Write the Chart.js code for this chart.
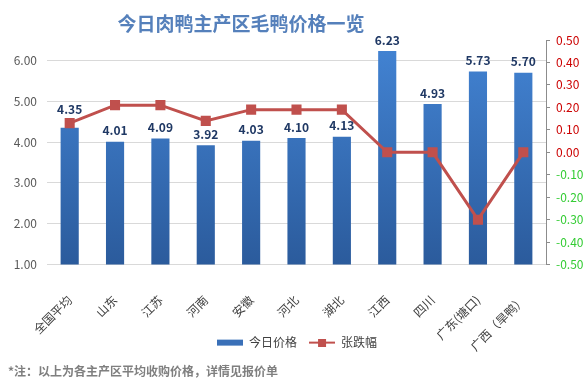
<!DOCTYPE html>
<html>
<head>
<meta charset="utf-8">
<script src="https://cdn.jsdelivr.net/npm/chart.js@4.4.1/dist/chart.umd.min.js"></script>
<style>
  html, body { margin: 0; padding: 0; background: #fff; }
  #wrap { width: 586px; height: 392px; }
</style>
</head>
<body>
<div id="wrap"><canvas id="myChart" width="586" height="392"></canvas></div>
<script>
const titleText = '今日肉鸭主产区毛鸭价格一览';
const noteText = '*注：以上为各主产区平均收购价格，详情见报价单';
const regions = ['全国平均', '山东', '江苏', '河南', '安徽', '河北', '湖北', '江西', '四川', '广东(塘口)', '广西（旱鸭）'];
const prices = [4.35, 4.01, 4.09, 3.92, 4.03, 4.10, 4.13, 6.23, 4.93, 5.73, 5.70];
const changes = [0.13, 0.21, 0.21, 0.14, 0.19, 0.19, 0.19, 0.00, 0.00, -0.30, 0.00];
const priceTicks = [1, 2, 3, 4, 5, 6];

const FONT = "'Noto Sans CJK SC', 'Noto Sans', sans-serif";

// legend symbols
function makeSymbol(kind) {
  const c = document.createElement('canvas');
  c.width = 26; c.height = 8;
  const g = c.getContext('2d');
  if (kind === 'bar') {
    g.fillStyle = '#3a70b8';
    g.fillRect(0, 1, 26, 6);
  } else {
    g.strokeStyle = '#c0504d';
    g.lineWidth = 2;
    g.beginPath(); g.moveTo(0, 4); g.lineTo(26, 4); g.stroke();
    g.fillStyle = '#c0504d';
    g.fillRect(9, 0, 8, 8);
  }
  return c;
}
const barSymbol = makeSymbol('bar');
const lineSymbol = makeSymbol('line');

function barGradient(ctx) {
  const chart = ctx.chart;
  const a = chart.chartArea;
  if (!a) return '#3a70b8';
  const g = chart.ctx.createLinearGradient(0, a.top, 0, a.bottom);
  g.addColorStop(0, '#4384d4');
  g.addColorStop(1, '#2b5b9c');
  return g;
}

const titlePlugin = {
  id: 'titleText',
  afterLayout(chart) {
    // let the rotated category labels run down past the legend row
    chart.scales.x.bottom = chart.height;
  },
  afterDraw(chart) {
    const c = chart.ctx;
    c.save();
    c.font = 'bold 19px ' + FONT;
    c.fillStyle = '#5580bb';
    c.textAlign = 'center';
    c.textBaseline = 'middle';
    c.fillText(titleText, 241, 24);
    c.restore();
  }
};

// price labels above the bars (pushed above the line marker when they'd collide)
const valueLabels = {
  id: 'valueLabels',
  afterDatasetsDraw(chart) {
    const c = chart.ctx;
    const bars = chart.getDatasetMeta(1).data;
    const pts = chart.getDatasetMeta(0).data;
    c.save();
    c.font = 'bold 12px ' + FONT;
    c.fillStyle = '#1f3864';
    c.textAlign = 'center';
    c.textBaseline = 'bottom';
    bars.forEach((bar, i) => {
      let y = bar.y - 5;
      const p = pts[i];
      if (p && p.y < y + 6 && p.y > y - 17) y = p.y - 8;
      c.fillText(prices[i].toFixed(2), bar.x, y);
    });
    c.restore();
  }
};

const data = {
  labels: regions,
  datasets: [
    {
      type: 'line',
      label: '张跌幅',
      data: changes,
      yAxisID: 'y1',
      borderColor: '#c0504d',
      borderWidth: 3,
      backgroundColor: '#c0504d',
      pointStyle: 'rect',
      pointRadius: 5,
      pointBackgroundColor: '#c0504d',
      pointBorderColor: '#c0504d',
      tension: 0,
      order: 0
    },
    {
      type: 'bar',
      label: '今日价格',
      data: prices,
      yAxisID: 'y',
      backgroundColor: barGradient,
      borderWidth: 0,
      barPercentage: 0.4,
      categoryPercentage: 1,
      order: 1
    }
  ]
};

const config = {
  data,
  plugins: [titlePlugin, valueLabels],
  options: {
    responsive: false,
    animation: false,
    layout: { padding: { top: 40, left: 8, right: 0, bottom: 7 } },
    scales: {
      x: {
        grid: { display: false },
        border: { display: false },
        ticks: {
          color: '#404040',
          font: { family: FONT, size: 12 },
          minRotation: 45,
          maxRotation: 45,
          padding: 20
        },
        afterFit(scale) { scale.height = 60; }
      },
      y: {
        position: 'left',
        min: 1,
        max: 6.5,
        afterBuildTicks(scale) {
          scale.ticks = priceTicks.map(v => ({ value: v }));
        },
        ticks: {
          color: '#595959',
          font: { family: FONT, size: 12 },
          padding: 10,
          callback: v => Number(v).toFixed(2)
        },
        grid: { color: '#d9d9d9', drawTicks: false },
        border: { display: false },
        afterFit(scale) { scale.width = 39; }
      },
      y1: {
        position: 'right',
        min: -0.5,
        max: 0.5,
        ticks: {
          stepSize: 0.1,
          padding: 6,
          font: { family: FONT, size: 12 },
          color: ctx => (ctx.tick && ctx.tick.value < -0.001) ? '#33cc33' : '#cc0000',
          callback: v => (Math.round(v * 100) / 100).toFixed(2)
        },
        grid: { drawOnChartArea: false, drawTicks: true, tickLength: 4, color: '#8c8c8c' },
        border: { display: true, color: '#8c8c8c' },
        afterFit(scale) { scale.width = 40; }
      }
    },
    plugins: {
      legend: {
        position: 'bottom',
        labels: {
          usePointStyle: true,
          pointStyleWidth: 26,
          boxHeight: 8,
          padding: 12,
          color: '#404040',
          font: { family: FONT, size: 12 },
          generateLabels(chart) {
            return [
              { text: '今日价格', datasetIndex: 1, pointStyle: barSymbol, fillStyle: '#3a70b8', strokeStyle: '#3a70b8', lineWidth: 0, fontColor: '#404040' },
              { text: '张跌幅', datasetIndex: 0, pointStyle: lineSymbol, fillStyle: '#c0504d', strokeStyle: '#c0504d', lineWidth: 0, fontColor: '#404040' }
            ];
          }
        }
      },
      subtitle: {
        display: true,
        text: noteText,
        position: 'bottom',
        align: 'start',
        color: '#7f7f7f',
        font: { family: FONT, size: 12, weight: 'bold' },
        padding: { top: 6, bottom: 6 }
      },
      tooltip: { enabled: false }
    }
  }
};

const myChart = new Chart(document.getElementById('myChart'), config);
</script>
</body>
</html>
